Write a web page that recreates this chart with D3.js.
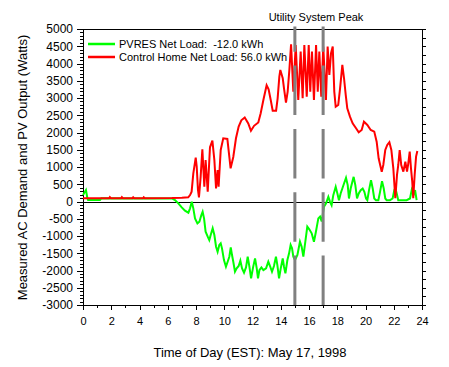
<!DOCTYPE html>
<html>
<head>
<meta charset="utf-8">
<script src="https://cdn.jsdelivr.net/npm/d3@7.9.0/dist/d3.min.js"></script>
<style>
  html, body { margin: 0; padding: 0; background: #fff; }
  svg { display: block; font-family: "Liberation Sans", Arial, sans-serif; }
  .axis path, .axis line { stroke: #000; shape-rendering: crispEdges; }
  .axis text { fill: #000; }
</style>
</head>
<body>
<div id="chart"></div>
<script>
// ---------- DATA (hour of day, watts) ----------
const pvresNetLoad = [
  [0, 188], [0.21, 333], [0.31, 93], [0.36, 43], [1.2, 43], [1.3, 93], [6.3, 90],
  [6.51, 43], [6.75, -53], [6.99, -169], [7.22, -267], [7.46, -325], [7.58, -199],
  [7.7, -5], [7.81, -199], [7.93, -488], [8.1, -633], [8.24, -585], [8.38, -391],
  [8.47, -295], [8.57, -488], [8.68, -875], [8.83, -1020], [8.94, -1117], [9.04, -972],
  [9.18, -778], [9.3, -972], [9.42, -1310], [9.53, -1455], [9.65, -1262], [9.75, -1213],
  [9.84, -1358], [9.98, -1697], [10.12, -1890], [10.24, -1745], [10.36, -1600],
  [10.46, -1330], [10.55, -1552], [10.64, -1745], [10.76, -2035], [10.88, -1938],
  [11.02, -1870], [11.14, -1716], [11.26, -1938], [11.4, -2064], [11.54, -1910],
  [11.66, -1600], [11.78, -1890], [11.9, -2228], [12.04, -1910], [12.18, -1648],
  [12.3, -1938], [12.39, -2228], [12.49, -1987], [12.63, -1910], [12.77, -1987],
  [12.96, -1938], [13.12, -1745], [13.24, -1870], [13.38, -2035], [13.52, -1870],
  [13.66, -1600], [13.76, -1842], [13.88, -2228], [14.0, -1938], [14.14, -1648],
  [14.23, -1890], [14.33, -2083], [14.47, -1697], [14.59, -1503], [14.7, -1262],
  [14.8, -1358], [14.89, -1600], [15.01, -1698], [15.18, -1551], [15.36, -1165],
  [15.48, -1310], [15.6, -1600], [15.74, -1165], [15.88, -730], [16.02, -807],
  [16.19, -923], [16.35, -1165], [16.49, -875], [16.66, -489], [16.78, -440],
  [16.9, -580], [17.06, -150], [17.2, -58], [17.37, 135], [17.49, -9], [17.6, -106],
  [17.72, 184], [17.89, 425], [18.01, 232], [18.12, 39], [18.24, 232], [18.36, 377],
  [18.48, 522], [18.62, 686], [18.74, 474], [18.83, 87], [18.95, 377], [19.07, 570],
  [19.16, 715], [19.28, 474], [19.4, 87], [19.52, 232], [19.66, 329], [19.8, 377],
  [19.92, 280], [20.04, 87], [20.13, 39], [20.25, 329], [20.39, 619], [20.51, 377],
  [20.62, 87], [20.74, 39], [20.91, 39], [21.03, 280], [21.17, 590], [21.29, 377],
  [21.4, 87], [21.5, 39], [21.73, 39], [21.92, 87], [22.04, 329], [22.11, 397],
  [22.21, 232], [22.32, 39], [22.91, 39], [23.15, 87], [23.27, 329], [23.39, 184],
  [23.51, 329], [23.62, 39]
];

const controlNetLoad = [
  [0, 93], [1.85, 93], [1.9, 125], [1.97, 93], [2.7, 93], [2.75, 125], [2.82, 93],
  [3.5, 93], [3.55, 120], [3.62, 93], [4.25, 93], [4.3, 120], [4.37, 93], [6.3, 100],
  [7.0, 110], [7.45, 121], [7.58, 187], [7.69, 284], [7.81, 817], [7.98, 1271],
  [8.05, 1010], [8.14, 333], [8.21, 121], [8.33, 720], [8.45, 1513], [8.59, 430],
  [8.68, 1203], [8.83, 285], [8.99, 1571], [9.16, 1764], [9.3, 1203], [9.42, 382],
  [9.53, 913], [9.6, 430], [9.75, 1493], [9.93, 1832], [10.22, 1813], [10.45, 962],
  [10.64, 1290], [10.83, 1832], [11.02, 2170], [11.21, 2353], [11.45, 2436],
  [11.7, 2262], [11.89, 2050], [12.11, 2194], [12.41, 2291], [12.58, 2557],
  [12.77, 2944], [13.0, 3369], [13.14, 3253], [13.29, 2944], [13.43, 2634],
  [13.67, 2634], [13.78, 2992], [13.9, 3620], [13.97, 3814], [14.14, 3572],
  [14.23, 3282], [14.37, 2866], [14.49, 3185], [14.61, 3814], [14.73, 4558],
  [14.89, 3185], [15.06, 4538], [15.24, 2944], [15.41, 4345], [15.55, 2992],
  [15.67, 4538], [15.84, 3040], [15.98, 4538], [16.09, 3185], [16.21, 4345],
  [16.35, 2944], [16.5, 4538], [16.62, 3185], [16.73, 4345], [16.87, 3040],
  [17.01, 4490], [17.2, 2944], [17.32, 4490], [17.44, 3669], [17.56, 4297],
  [17.68, 4490], [17.79, 3185], [17.89, 2750], [18.07, 2799], [18.2, 3282],
  [18.36, 3959], [18.48, 3572], [18.6, 3089], [18.71, 2702], [18.9, 2460],
  [19.09, 2267], [19.33, 2122], [19.52, 2006], [19.73, 2073], [19.89, 2315],
  [20.13, 2218], [20.37, 2073], [20.62, 2025], [20.79, 1735], [20.93, 1252],
  [21.15, 865], [21.26, 1058], [21.4, 1493], [21.54, 1638], [21.69, 1716],
  [21.83, 1493], [21.97, 962], [22.11, 93], [22.23, 769], [22.32, 1058], [22.42, 1493],
  [22.53, 1058], [22.68, 865], [22.82, 1155], [22.94, 865], [23.03, 1107],
  [23.13, 1445], [23.22, 962], [23.31, 575], [23.38, 93], [23.48, 769], [23.58, 1300],
  [23.67, 1464]
];

const peakHours = [15, 17];
const legendLabels = ['PVRES Net Load:  -12.0 kWh', 'Control Home Net Load: 56.0 kWh'];
const seriesColors = ['#00ff00', '#ff0000'];
const xTicks = d3.range(0, 25, 2);
const yTicks = d3.range(-3000, 5001, 500);

// ---------- SETUP ----------
const width = 449;
const height = 367;
const plot = { left: 83, right: 422, top: 29, bottom: 305 };

const svg = d3.select('#chart')
  .append('svg')
  .attr('width', width)
  .attr('height', height);

const x = d3.scaleLinear().domain([0, 24]).range([plot.left, plot.right]);
const y = d3.scaleLinear().domain([-3000, 5000]).range([plot.bottom, plot.top]);

// plain hyphen minus, no thousands separator
const plain = (d) => String(d);

// ---------- AXES ----------
// minor ticks first, then the labelled major ticks
svg.append('g')
  .attr('class', 'axis')
  .attr('transform', `translate(${plot.left},0)`)
  .call(d3.axisLeft(y).tickValues(d3.range(-3000, 5001, 100)).tickSize(3).tickFormat(''));

svg.append('g')
  .attr('class', 'axis')
  .attr('transform', `translate(${plot.left},0)`)
  .call(d3.axisLeft(y).tickValues(yTicks).tickSize(6).tickPadding(4).tickFormat(plain))
  .call((g) => g.select('.domain').remove())
  .selectAll('text')
  .style('font-size', '12px');

svg.append('g')
  .attr('class', 'axis')
  .attr('transform', `translate(${plot.right},0)`)
  .call(d3.axisRight(y).tickValues(d3.range(-3000, 5001, 250)).tickSize(4).tickFormat(''));

svg.append('g')
  .attr('class', 'axis')
  .attr('transform', `translate(0,${plot.bottom})`)
  .call(d3.axisBottom(x).tickValues(d3.range(0, 25, 1)).tickSize(3).tickFormat(''));

svg.append('g')
  .attr('class', 'axis')
  .attr('transform', `translate(0,${plot.bottom})`)
  .call(d3.axisBottom(x).tickValues(xTicks).tickSize(5).tickPadding(7).tickFormat(plain))
  .call((g) => g.select('.domain').remove())
  .selectAll('text')
  .style('font-size', '11px');

// top border
svg.append('line')
  .attr('x1', plot.left).attr('x2', plot.right + 1)
  .attr('y1', plot.top + 0.5).attr('y2', plot.top + 0.5)
  .attr('stroke', '#000');

// zero line
svg.append('line')
  .attr('x1', plot.left).attr('x2', plot.right)
  .attr('y1', Math.round(y(0)) + 0.5).attr('y2', Math.round(y(0)) + 0.5)
  .attr('stroke', '#000');

// ---------- SERIES ----------
const line = d3.line().x((d) => x(d[0])).y((d) => y(d[1]));

[pvresNetLoad, controlNetLoad].forEach((series, i) => {
  svg.append('path')
    .datum(series)
    .attr('fill', 'none')
    .attr('stroke', seriesColors[i])
    .attr('stroke-width', 2)
    .attr('stroke-linejoin', 'miter')
    .attr('d', line);
});

// ---------- PEAK MARKERS ----------
svg.append('g')
  .selectAll('line')
  .data(peakHours)
  .join('line')
  .attr('x1', (d) => x(d)).attr('x2', (d) => x(d))
  .attr('y1', plot.bottom).attr('y2', plot.top - 2.5)
  .attr('stroke', '#808080')
  .attr('stroke-width', 3)
  .attr('stroke-dasharray', '49.5 13.8');

svg.append('text')
  .attr('x', x(16) + 7)
  .attr('y', 21)
  .attr('text-anchor', 'middle')
  .style('font-size', '11px')
  .text('Utility System Peak');

// ---------- LEGEND ----------
const legend = svg.append('g').attr('transform', 'translate(88,44)');
legendLabels.forEach((label, i) => {
  const row = legend.append('g').attr('transform', `translate(0,${i * 13})`);
  row.append('line')
    .attr('x1', 0).attr('x2', 27)
    .attr('stroke', seriesColors[i])
    .attr('stroke-width', 2.5);
  row.append('text')
    .attr('x', 31)
    .attr('y', 4)
    .style('font-size', '11px')
    .style('white-space', 'pre')
    .text(label);
});

// ---------- TITLES ----------
svg.append('text')
  .attr('x', 250)
  .attr('y', 357)
  .attr('text-anchor', 'middle')
  .style('font-size', '13px')
  .text('Time of Day (EST): May 17, 1998');

svg.append('text')
  .attr('transform', 'translate(26.5,167.5) rotate(-90)')
  .attr('text-anchor', 'middle')
  .style('font-size', '13px')
  .text('Measured AC Demand and PV Output (Watts)');
</script>
</body>
</html>
